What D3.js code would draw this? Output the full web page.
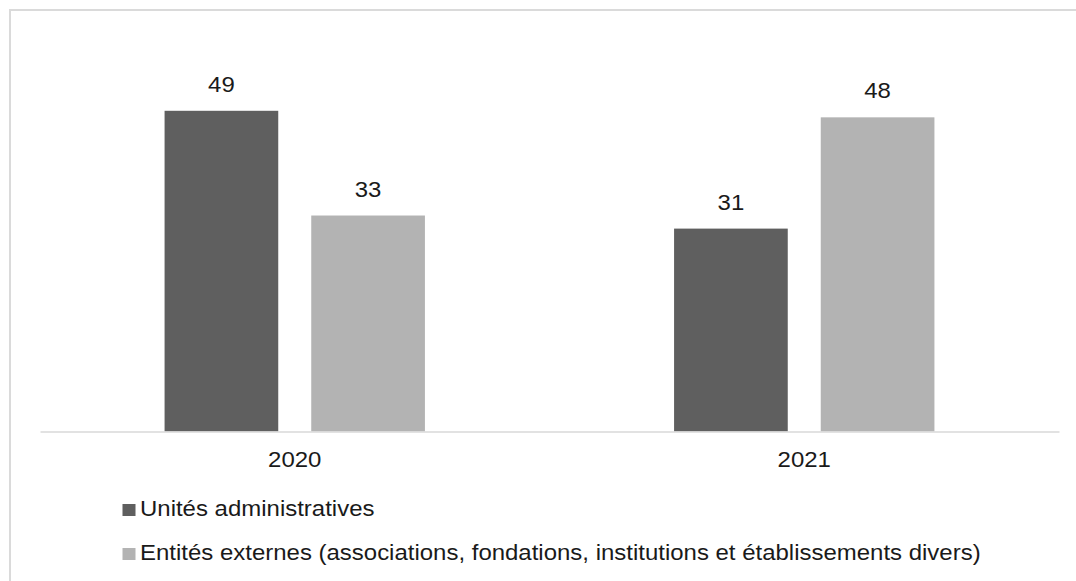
<!DOCTYPE html>
<html>
<head>
<meta charset="utf-8">
<script src="https://cdn.jsdelivr.net/npm/d3@7"></script>
<style>
  html, body { margin: 0; padding: 0; background: #fff; }
  svg { display: block; }
  text { font-family: "Liberation Sans", Arial, Helvetica, sans-serif; fill: #1a1a1a; }
</style>
</head>
<body>
<svg id="chart" width="1076" height="581"></svg>
<script>
// Data
const categories = ["2020", "2021"];
const seriesNames = [
  "Unités administratives",
  "Entités externes (associations, fondations, institutions et établissements divers)"
];
const unitesValues = [49, 31];
const externesValues = [33, 48];
const seriesColors = ["#5f5f5f", "#b3b3b3"];

const svg = d3.select("#chart");
const W = 1076, H = 581;
const fontSize = 22;
const stretch = 1.09;

// frame (top and left edges visible)
svg.append("path")
  .attr("d", `M10,${H} V10 H${W}`)
  .attr("fill", "none")
  .attr("stroke", "#dadada")
  .attr("stroke-width", 2);

const plotLeft = 40, plotRight = 1059, baseY = 431.5;

const x0 = d3.scaleBand()
  .domain(categories)
  .range([plotLeft, plotRight])
  .paddingInner(0.489)
  .paddingOuter(0.2445);

const x1 = d3.scaleBand()
  .domain(d3.range(seriesNames.length))
  .range([0, x0.bandwidth()])
  .paddingInner(0.225);

const y = d3.scaleLinear().domain([0, 60]).range([baseY, baseY - 60 * 6.545]);

const series = [unitesValues, externesValues];
const rows = categories.map((c, i) => ({
  cat: c,
  vals: series.map((s, k) => ({ k, v: s[i] }))
}));

const groups = svg.append("g").selectAll("g")
  .data(rows).join("g")
  .attr("transform", d => `translate(${x0(d.cat)},0)`);

groups.selectAll("rect")
  .data(d => d.vals).join("rect")
  .attr("x", d => x1(d.k))
  .attr("width", x1.bandwidth())
  .attr("y", d => y(d.v))
  .attr("height", d => y(0) - y(d.v))
  .attr("fill", d => seriesColors[d.k]);

groups.selectAll("text.val")
  .data(d => d.vals).join("text")
  .attr("class", "val")
  .attr("text-anchor", "middle")
  .attr("font-size", fontSize)
  .attr("transform", d => `translate(${x1(d.k) + x1.bandwidth() / 2},${y(d.v) - 19}) scale(${stretch},1)`)
  .text(d => d.v);

// x axis
const xAxis = d3.axisBottom(x0).tickSize(0).tickPadding(0);
const axisG = svg.append("g").attr("transform", `translate(0,${baseY})`).call(xAxis);
axisG.select(".domain").attr("stroke", "#d9d9d9").attr("stroke-width", 1.5);
axisG.selectAll(".tick text").remove();
axisG.selectAll(".tick").append("text")
  .attr("text-anchor", "middle")
  .attr("font-size", fontSize)
  .attr("transform", `translate(0,35.5) scale(${stretch},1)`)
  .attr("fill", "#1a1a1a")
  .text(d => d);

// legend
const legend = svg.append("g");
const legendRows = seriesNames.map((n, k) => ({ n, k }));
const legY = d3.scaleOrdinal().domain([0, 1]).range([516, 560]);
legend.selectAll("rect")
  .data(legendRows).join("rect")
  .attr("x", 122.5)
  .attr("y", d => legY(d.k) - 12)
  .attr("width", 13)
  .attr("height", 12)
  .attr("fill", d => seriesColors[d.k]);
legend.selectAll("text")
  .data(legendRows).join("text")
  .attr("font-size", fontSize)
  .attr("transform", d => `translate(140,${legY(d.k)}) scale(${stretch},1)`)
  .text(d => d.n);
</script>
</body>
</html>
